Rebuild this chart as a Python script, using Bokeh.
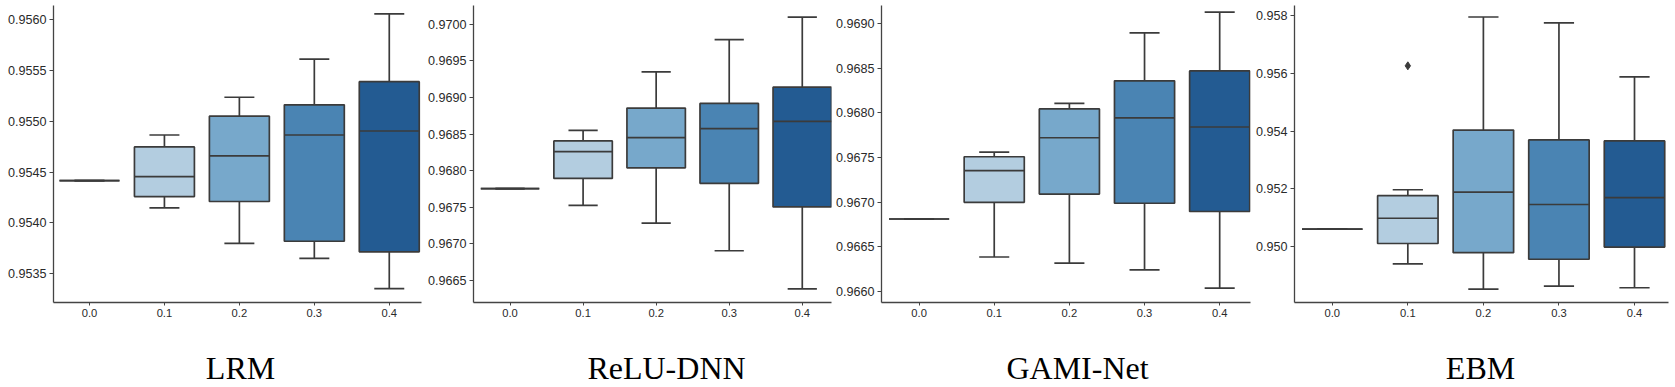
from bokeh.plotting import figure
from bokeh.layouts import row, column
from bokeh.models import Range1d, FixedTicker, PrintfTickFormatter
from bokeh.core.properties import value
from bokeh.embed import file_html
from bokeh.resources import INLINE

# ---------------- data ----------------
categories = ["0.0", "0.1", "0.2", "0.3", "0.4"]
box_colors = ["#c9dced", "#b3cde0", "#77a8cb", "#4a84b3", "#235b92"]

titles = ["LRM", "ReLU-DNN", "GAMI-Net", "EBM"]

lrm_low = [0.954415, 0.954148, 0.953799, 0.953650, 0.953353]
lrm_q1 = [0.954415, 0.954258, 0.954210, 0.953819, 0.953715]
lrm_med = [0.954415, 0.954454, 0.954659, 0.954864, 0.954903]
lrm_q3 = [0.954415, 0.954747, 0.955049, 0.955160, 0.955388]
lrm_high = [0.954415, 0.954864, 0.955235, 0.955609, 0.956055]

dnn_low = [0.967753, 0.967526, 0.967281, 0.966904, 0.966382]
dnn_q1 = [0.967753, 0.967894, 0.968039, 0.967826, 0.967503]
dnn_med = [0.967753, 0.968261, 0.968452, 0.968575, 0.968674]
dnn_q3 = [0.967753, 0.968407, 0.968856, 0.968920, 0.969142]
dnn_high = [0.967753, 0.968552, 0.969351, 0.969791, 0.970100]

gami_low = [0.966813, 0.966388, 0.966319, 0.966245, 0.966040]
gami_q1 = [0.966813, 0.967000, 0.967092, 0.966989, 0.966897]
gami_med = [0.966813, 0.967355, 0.967722, 0.967945, 0.967842]
gami_q3 = [0.966813, 0.967509, 0.968044, 0.968359, 0.968469]
gami_high = [0.966813, 0.967560, 0.968106, 0.968894, 0.969128]

ebm_low = [0.950593, 0.949385, 0.948507, 0.948610, 0.948553]
ebm_q1 = [0.950593, 0.950091, 0.949772, 0.949544, 0.949966]
ebm_med = [0.950593, 0.950969, 0.951880, 0.951447, 0.951687]
ebm_q3 = [0.950593, 0.951755, 0.954034, 0.953692, 0.953658]
ebm_high = [0.950593, 0.951960, 0.957966, 0.957761, 0.955886]
ebm_outlier_cat = ["0.1"]
ebm_outlier_val = [0.956268]

lrm_yticks = [0.9535, 0.9540, 0.9545, 0.9550, 0.9555, 0.9560]
dnn_yticks = [0.9665, 0.9670, 0.9675, 0.9680, 0.9685, 0.9690, 0.9695, 0.9700]
gami_yticks = [0.9660, 0.9665, 0.9670, 0.9675, 0.9680, 0.9685, 0.9690]
ebm_yticks = [0.950, 0.952, 0.954, 0.956, 0.958]

lrm_yrange = (0.953217, 0.956137)
dnn_yrange = (0.966196, 0.970259)
gami_yrange = (0.965879, 0.969201)
ebm_yrange = (0.948040, 0.958365)

# ---------------- styling / layout ----------------
LINE = "#3b3b3b"
AXIS = "#444444"
TEXT = "#2a2a2a"
PLOT_H = 340
TITLE_H = 47
TITLE_MID = 19.5   # px above the bottom of the title strip

panels = [
    dict(title=titles[0], low=lrm_low, q1=lrm_q1, med=lrm_med, q3=lrm_q3, high=lrm_high,
         yticks=lrm_yticks, yr=lrm_yrange, fmt="%.4f", width=424, bl=53, br=3, bt=5, bb=36,
         xr=(-0.48, 4.43), tx=240),
    dict(title=titles[1], low=dnn_low, q1=dnn_q1, med=dnn_med, q3=dnn_q3, high=dnn_high,
         yticks=dnn_yticks, yr=dnn_yrange, fmt="%.4f", width=408, bl=48, br=1, bt=5, bb=37,
         xr=(-0.50, 4.40), tx=242),
    dict(title=titles[2], low=gami_low, q1=gami_q1, med=gami_med, q3=gami_q3, high=gami_high,
         yticks=gami_yticks, yr=gami_yrange, fmt="%.4f", width=420, bl=47, br=2, bt=0, bb=38,
         xr=(-0.50, 4.41), tx=245),
    dict(title=titles[3], low=ebm_low, q1=ebm_q1, med=ebm_med, q3=ebm_q3, high=ebm_high,
         yticks=ebm_yticks, yr=ebm_yrange, fmt="%.3f", width=423, bl=41, br=7, bt=3, bb=35,
         xr=(-0.50, 4.45), tx=228),
]

BOX_W = 0.8
CAP_W = 0.4

figs = []
title_figs = []
for i, pd_ in enumerate(panels):
    xs = list(range(len(categories)))
    y0, y1 = pd_["yr"]
    p = figure(width=pd_["width"], height=PLOT_H, output_backend="svg", toolbar_location=None,
               x_range=Range1d(*pd_["xr"]), y_range=Range1d(y0, y1),
               min_border_left=pd_["bl"], min_border_right=pd_["br"],
               min_border_top=pd_["bt"], min_border_bottom=pd_["bb"])
    p.outline_line_color = None
    p.background_fill_color = "white"
    p.border_fill_color = "white"
    p.xgrid.visible = False
    p.ygrid.visible = False

    # whiskers
    p.segment(x0=xs, y0=pd_["q3"], x1=xs, y1=pd_["high"], line_color=LINE, line_width=1.7)
    p.segment(x0=xs, y0=pd_["q1"], x1=xs, y1=pd_["low"], line_color=LINE, line_width=1.7)
    # caps
    p.segment(x0=[x - CAP_W / 2 for x in xs], y0=pd_["high"], x1=[x + CAP_W / 2 for x in xs],
              y1=pd_["high"], line_color=LINE, line_width=1.7)
    p.segment(x0=[x - CAP_W / 2 for x in xs], y0=pd_["low"], x1=[x + CAP_W / 2 for x in xs],
              y1=pd_["low"], line_color=LINE, line_width=1.7)
    # boxes
    p.vbar(x=xs, width=BOX_W, bottom=pd_["q1"], top=pd_["q3"], fill_color=box_colors,
           line_color=LINE, line_width=1.7)
    # medians
    p.segment(x0=[x - BOX_W / 2 for x in xs], y0=pd_["med"], x1=[x + BOX_W / 2 for x in xs],
              y1=pd_["med"], line_color=LINE, line_width=1.7)

    if pd_["title"] == "EBM":
        ox = [categories.index(c) for c in ebm_outlier_cat]
        p.scatter(x=ox, y=ebm_outlier_val, marker="diamond", size=8,
                  fill_color=LINE, line_color=LINE)

    # x axis
    xa = p.xaxis[0]
    xa.ticker = FixedTicker(ticks=xs)
    xa.major_label_overrides = {float(x): c for x, c in zip(xs, categories)}
    xa.major_label_text_font = "Liberation Sans"
    xa.major_label_text_font_size = "11.2px"
    xa.major_label_text_color = TEXT
    xa.major_tick_in = 0
    xa.major_tick_out = 3
    xa.minor_tick_line_color = None
    xa.major_label_standoff = 3
    xa.axis_line_color = AXIS
    xa.major_tick_line_color = AXIS
    xa.axis_line_width = 1.3

    # y axis
    ya = p.yaxis[0]
    ya.ticker = FixedTicker(ticks=pd_["yticks"])
    ya.formatter = PrintfTickFormatter(format=pd_["fmt"])
    ya.major_label_text_font = "Liberation Sans"
    ya.major_label_text_font_size = "12.6px"
    ya.major_label_text_color = TEXT
    ya.major_tick_in = 0
    ya.major_tick_out = 4
    ya.minor_tick_line_color = None
    ya.major_label_standoff = 3
    ya.axis_line_color = AXIS
    ya.major_tick_line_color = AXIS
    ya.axis_line_width = 1.3

    figs.append(p)

    # title strip below the panel
    t = figure(width=pd_["width"], height=TITLE_H, output_backend="svg", toolbar_location=None,
               x_range=Range1d(0, pd_["width"]), y_range=Range1d(0, TITLE_H),
               x_axis_type=None, y_axis_type=None,
               min_border_left=0, min_border_right=0, min_border_top=0, min_border_bottom=0)
    t.outline_line_color = None
    t.xgrid.visible = False
    t.ygrid.visible = False
    t.background_fill_color = "white"
    t.border_fill_color = "white"
    t.text(x=[pd_["tx"]], y=[TITLE_MID], text=[pd_["title"]],
           text_align="center", text_baseline="middle",
           text_font=value("Liberation Serif"), text_font_size="32px", text_color="#000000")
    title_figs.append(t)

layout = column(row(*figs, spacing=0), row(*title_figs, spacing=0), spacing=0)
open("out.html", "w").write(file_html(layout, INLINE))
